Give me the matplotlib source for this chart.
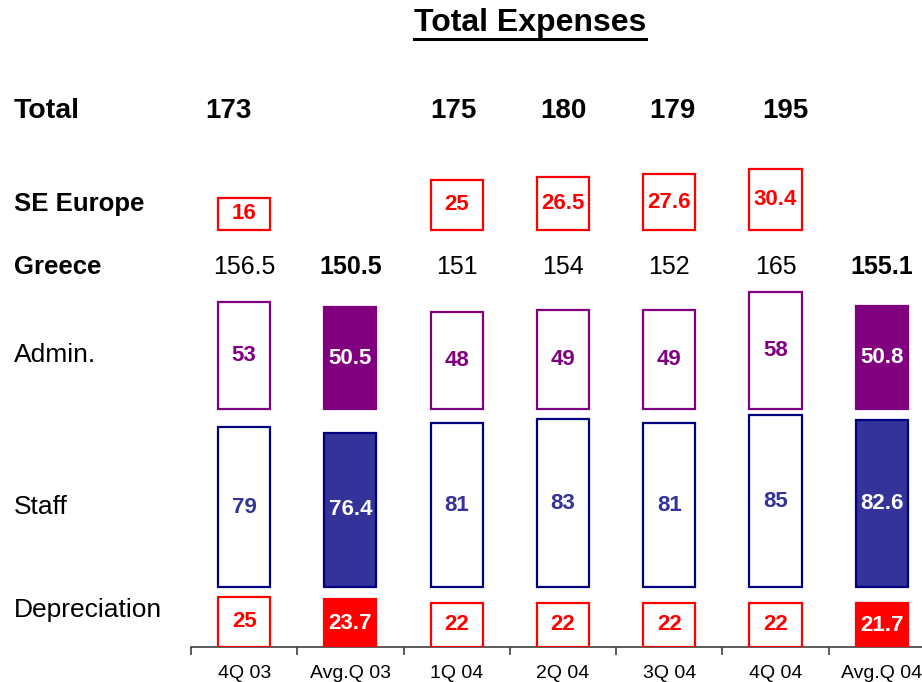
import matplotlib
matplotlib.use("Agg")
import matplotlib.pyplot as plt
from matplotlib.lines import Line2D
import numpy as np

plt.rcParams['font.family'] = ['Liberation Sans', 'DejaVu Sans']

periodos = ['4Q 03', 'Avg.Q 03', '1Q 04', '2Q 04', '3Q 04', '4Q 04', 'Avg.Q 04']
es_promedio = [False, True, False, False, False, False, True]
total = [173, None, 175, 180, 179, 195, None]
se_europe = [16, None, 25, 26.5, 27.6, 30.4, None]
greece = [156.5, 150.5, 151, 154, 152, 165, 155.1]
admin = [53, 50.5, 48, 49, 49, 58, 50.8]
staff = [79, 76.4, 81, 83, 81, 85, 82.6]
depreciation = [25, 23.7, 22, 22, 22, 22, 21.7]

filas = ['Total', 'SE Europe', 'Greece', 'Admin.', 'Staff', 'Depreciation']

fig = plt.figure(figsize=(9.22, 6.82), dpi=100)
ax = fig.add_axes([191 / 922, 35 / 682, 731 / 922, 647 / 682])

x = np.arange(len(periodos))
ancho = 0.49
escala = 2.02  # pixeles por unidad

# base de cada fila (las barras no se apilan, cada fila tiene su propia base)
base_dep = 0
base_staff = 29.7
base_admin = 117.8
base_se = 206.4

rojo = '#FF0000'
morado = '#800080'
azul_borde = '#000080'
azul = '#333399'


def fila(valores, base, borde, relleno, color_txt):
    for i, v in enumerate(valores):
        if v is None:
            continue
        prom = es_promedio[i]
        ax.bar(x[i], v, ancho, bottom=base,
               facecolor=relleno if prom else 'white',
               edgecolor=borde, linewidth=1.6, zorder=3)
        ax.text(x[i], base + v / 2, f'{v:g}', ha='center', va='center',
                fontsize=16, fontweight='bold',
                color='white' if prom else color_txt, zorder=4)


fila(depreciation, base_dep, rojo, rojo, rojo)
fila(staff, base_staff, azul_borde, azul, azul)
fila(admin, base_admin, morado, morado, morado)
fila(se_europe, base_se, rojo, rojo, rojo)

for i, g in enumerate(greece):
    ax.text(x[i], (647 - 267) / escala, f'{g:g}', ha='center', va='center', fontsize=18,
            fontweight='bold' if es_promedio[i] else 'normal', color='black')

desplaz_total = [-0.15, 0, -0.03, 0, 0.03, 0.09, 0]
for i, t in enumerate(total):
    if t is None:
        continue
    ax.text(x[i] + desplaz_total[i], (647 - 111) / escala, str(t), ha='center', va='center',
            fontsize=20, fontweight='bold', color='black')

ax.set_xlim(-0.5, (922 - 244) / 106.3)
ax.set_ylim(0, 647 / escala)

# marcas entre barras, etiquetas bajo cada barra
ax.set_xticks(x - 0.5)
ax.set_xticklabels([])
ax.set_xticks(x, minor=True)
ax.set_xticklabels(periodos, minor=True, fontsize=14)
ax.tick_params(axis='x', which='major', direction='out', length=6, width=1.2, color='#404040')
ax.tick_params(axis='x', which='minor', length=0, pad=13)
ax.set_yticks([])
for s in ['top', 'right', 'left']:
    ax.spines[s].set_visible(False)
ax.spines['bottom'].set_color('#404040')
ax.spines['bottom'].set_linewidth(1.2)

# etiquetas de filas
pos_filas = [111, 204, 267, 355, 507, 610]
negrita = [True, True, True, False, False, False]
tamanos = [20.5, 18.5, 18.5, 19, 19, 19]
for nombre, py, b, tam in zip(filas, pos_filas, negrita, tamanos):
    fig.text(14 / 922, 1 - py / 682, nombre, ha='left', va='center', fontsize=tam,
             fontweight='bold' if b else 'normal')

titulo = fig.text(530 / 922, 1 - 23 / 682, 'Total Expenses', ha='center', va='center',
                  fontsize=23, fontweight='bold')
fig.canvas.draw()
bb = titulo.get_window_extent().transformed(fig.transFigure.inverted())
fig.add_artist(Line2D([bb.x0, bb.x1], [1 - 39 / 682, 1 - 39 / 682],
                      transform=fig.transFigure, color='black', linewidth=2.2))

fig.savefig('out.png', dpi=100)
